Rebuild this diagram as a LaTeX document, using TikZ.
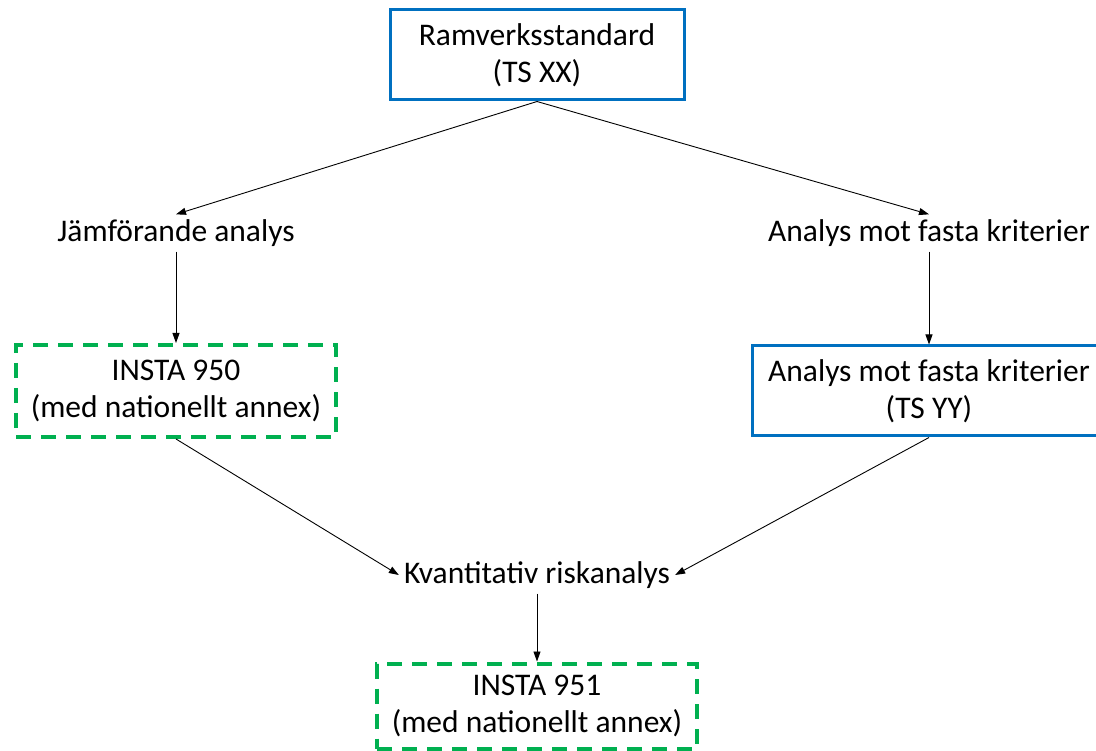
\documentclass[tikz,border=0pt]{standalone}
\usepackage{fontspec}
\setmainfont{Carlito}
\usetikzlibrary{arrows.meta}
\definecolor{boxblue}{HTML}{0070C0}
\definecolor{boxgreen}{HTML}{00B050}
\begin{document}
\begin{tikzpicture}[x=1pt,y=-1pt,
  every node/.style={font=\fontsize{31.5}{37}\selectfont, align=center},
  bluebox/.style={draw=boxblue, line width=3pt, minimum height=90pt, inner sep=0pt},
  greenbox/.style={draw=boxgreen, line width=4pt, dash pattern=on 15pt off 10pt, inner sep=0pt},
  plain/.style={inner sep=5pt},
  arr/.style={-{Triangle[length=10pt,width=7pt]}, line width=0.9pt, black}]
\clip (0,0) rectangle (1096,751);
\fill[white] (0,0) rectangle (1096,751);
\node[bluebox, minimum width=294pt] (top) at (537,55) {Ramverksstandard\\(TS XX)};
\node[plain] (jam) at (176,233) {Jämförande analys};
\node[plain] (afk) at (929,233) {Analys mot fasta kriterier};
\node[greenbox, minimum width=320pt, minimum height=92pt] (i950) at (176,391) {INSTA 950\\(med nationellt annex)};
\node[bluebox, minimum width=354pt] (tsyy) at (929,391) {Analys mot fasta kriterier\\(TS YY)};
\node[plain] (kv) at (537,575) {Kvantitativ riskanalys};
\node[greenbox, minimum width=320pt, minimum height=85pt] (i951) at (537,706) {INSTA 951\\(med nationellt annex)};
\draw[arr] (top.south) -- (jam.north);
\draw[arr] (top.south) -- (afk.north);
\draw[arr] (jam.south) -- (i950.north);
\draw[arr] (afk.south) -- (tsyy.north);
\draw[arr] (i950.south) -- (kv.west);
\draw[arr] (tsyy.south) -- (kv.east);
\draw[arr] (kv.south) -- (i951.north);
\end{tikzpicture}
\end{document}
